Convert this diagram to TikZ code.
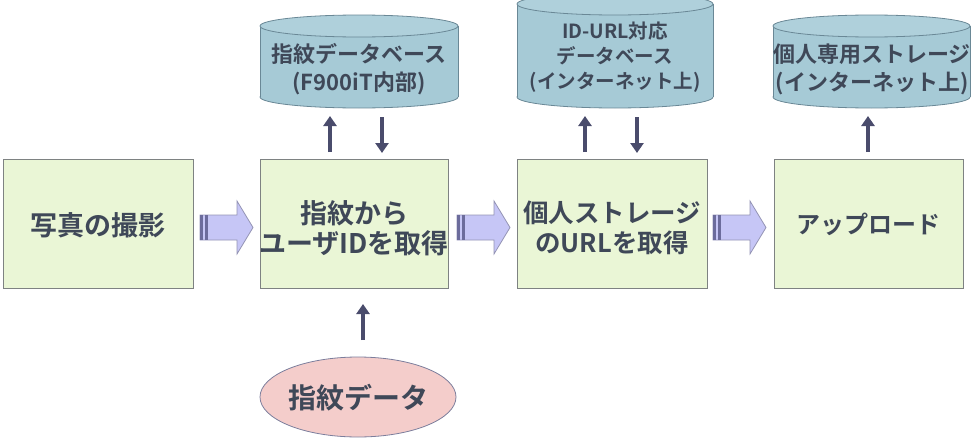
\documentclass[tikz,border=0pt]{standalone}
\usepackage{fontspec}
\usetikzlibrary{arrows.meta}
\setmainfont{Noto Sans CJK JP}[BoldFont={Noto Sans CJK JP Bold}]
\definecolor{boxfill}{HTML}{EAF6D6}
\definecolor{boxline}{HTML}{7E8282}
\definecolor{cylfill}{HTML}{A6CAD6}
\definecolor{cyltop}{HTML}{AFD0DB}
\definecolor{cylline}{HTML}{6A8896}
\definecolor{txt}{HTML}{3F4858}
\definecolor{arr}{HTML}{4A4C6C}
\definecolor{bafill}{HTML}{C6C6F6}
\definecolor{baline}{HTML}{9494B4}
\definecolor{badark}{HTML}{6C6C9C}
\definecolor{elfill}{HTML}{F4CDCB}
\definecolor{elline}{HTML}{7C7E9C}
\begin{document}
\begin{tikzpicture}[x=1pt,y=-1pt,
  stepbox/.style={draw=boxline, fill=boxfill, line width=0.9pt},
  lbl/.style={text=txt, font=\bfseries, align=center, inner sep=0pt},
  big/.style={lbl, font=\fontsize{27}{29.5}\selectfont\bfseries},
  small/.style={lbl, font=\fontsize{22}{28}\selectfont\bfseries},
  smaller/.style={lbl, font=\fontsize{19.5}{25}\selectfont\bfseries},
  thinarrow/.style={draw=arr, line width=3.5pt, -{Triangle[length=10pt,width=13pt]}},
  barrow/.pic={
    \draw[fill=bafill, draw=baline, line width=0.8pt] (0,-12.5) -- (37,-12.5) -- (37,-26.5) -- (53,0) -- (37,26.5) -- (37,12.5) -- (0,12.5) -- cycle;
    \fill[badark] (0,-12.5) rectangle (3,12.5);
    \fill[badark] (5,-12.5) rectangle (7.5,12.5);
  }
]
\useasboundingbox (0,0) rectangle (972,439);
\newcommand{\cyl}[4]{% left, right, top center y, bottom center y
  \pgfmathsetmacro{\cx}{(#1+#2)/2}
  \pgfmathsetmacro{\rx}{(#2-#1)/2}
  \draw[fill=cylfill, draw=cylline, line width=0.8pt] (\cx,#4) ellipse [x radius=\rx, y radius=11];
  \fill[cylfill] (#1,#3) rectangle (#2,#4);
  \draw[cylline, line width=0.8pt] (#1,#3) -- (#1,#4) (#2,#3) -- (#2,#4);
  \draw[fill=cyltop, draw=cylline, line width=0.8pt] (\cx,#3) ellipse [x radius=\rx, y radius=11];
}
% boxes
\draw[stepbox] (3,159) rectangle (193,288);
\node[big] (b1) at (98,225) {写真の撮影};
\draw[stepbox] (260,159) rectangle (448,288);
\node[big] (b2) at (354,228) {指紋から\\ユーザIDを取得};
\draw[stepbox] (517,159) rectangle (707,288);
\node[big, font=\fontsize{25.5}{30}\selectfont\bfseries] (b3) at (612,228) {個人ストレージ\\のURLを取得};
\draw[stepbox] (774,159) rectangle (963,288);
\node[big, font=\fontsize{24}{29}\selectfont\bfseries] (b4) at (868.5,224) {アップロード};
% block arrows
\pic at (200,227.5) {barrow};
\pic at (457,227.5) {barrow};
\pic at (713,227.5) {barrow};
% cylinders
\cyl{260}{458}{26}{97}
\node[small] (c1) at (359,69.5) {指紋データベース\\(F900iT内部)};
\cyl{517}{713}{4}{97}
\node[smaller] (c2) at (615,57.5) {ID-URL対応\\データベース\\(インターネット上)};
\cyl{773}{970}{26}{97}
\node[small] (c3) at (872,69) {個人専用ストレージ\\(インターネット上)};
% ellipse
\draw[fill=elfill, draw=elline, line width=0.8pt] (358,397) ellipse [x radius=98, y radius=40];
\node[lbl, font=\fontsize{28}{30}\selectfont\bfseries] (fd) at (358,398) {指紋データ};
% small arrows
\coordinate (u1a) at (330,152); \coordinate (u1b) at (330,116);
\coordinate (d1a) at (382,117); \coordinate (d1b) at (382,153);
\coordinate (u2a) at (585,152); \coordinate (u2b) at (585,116);
\coordinate (d2a) at (637,117); \coordinate (d2b) at (637,153);
\coordinate (u3a) at (868,152); \coordinate (u3b) at (868,116);
\coordinate (e1a) at (363,340); \coordinate (e1b) at (363,304);
\draw[thinarrow] (u1a) -- (u1b);
\draw[thinarrow] (d1a) -- (d1b);
\draw[thinarrow] (u2a) -- (u2b);
\draw[thinarrow] (d2a) -- (d2b);
\draw[thinarrow] (u3a) -- (u3b);
\draw[thinarrow] (e1a) -- (e1b);
\end{tikzpicture}
\end{document}
